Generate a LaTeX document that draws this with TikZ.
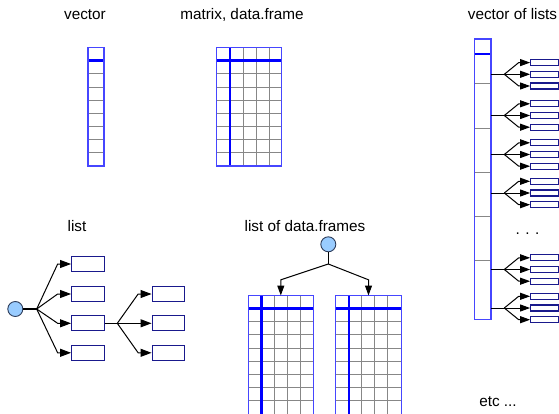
\documentclass[tikz,border=0pt]{standalone}
\usepackage{fontspec}
\setmainfont{Liberation Sans}
\usetikzlibrary{arrows.meta}
\definecolor{gridblue}{RGB}{70,70,255}
\definecolor{thickblue}{RGB}{0,0,255}
\definecolor{cellgray}{RGB}{135,135,135}
\definecolor{boxnavy}{RGB}{25,25,140}
\definecolor{ballfill}{RGB}{153,204,255}
\definecolor{balledge}{RGB}{45,60,90}
\tikzset{
  title/.style={anchor=base,inner sep=0pt,font=\fontsize{15.3}{18}\selectfont},
  cellline/.style={draw=cellgray,line width=1pt},
  keyline/.style={draw=thickblue,line width=2.6pt},
  frame/.style={draw=gridblue,line width=1.2pt},
  lbox/.style={draw=boxnavy,fill=white,line width=1.3pt,rectangle,inner sep=0pt,
    minimum width=32.6pt,minimum height=15pt},
  vbox/.style={draw=boxnavy,fill=white,line width=1.2pt,rectangle,inner sep=0pt,
    minimum width=27.6pt,minimum height=6pt},
  ball/.style={circle,draw=balledge,fill=ballfill,line width=0.9pt,inner sep=0pt,minimum size=15pt},
  link/.style={draw=black,line width=1pt},
  arrL/.style={link,-{Triangle[length=11pt,width=8pt]}},
  arrS/.style={link,-{Triangle[length=10pt,width=7pt]}},
}
\begin{document}
\begin{tikzpicture}[x=1pt,y=-1pt]
\useasboundingbox (0,0) rectangle (559,414);
\clip (0,0) rectangle (559,414);

% ---------- titles ----------
\node[title] (tvec) at (85,19.5) {vector};
\node[title] (tmat) at (242,19.5) {matrix, data.frame};
\node[title] (tvol) at (512.5,19.5) {vector of lists};
\node[title] (tlist) at (77,231) {list};
\node[title] (tldf) at (305,231) {list of data.frames};
\node[title] (tetc) at (498,406) {etc ...};

% ---------- vector ----------
\foreach \k in {1,...,7}
  \draw[cellline] (88,{60.7+\k*13.16}) -- (104,{60.7+\k*13.16});
\draw[keyline] (88,60.7) -- (104,60.7);
\draw[frame] (88,47.7) rectangle (104,166);

% ---------- matrix ----------
\foreach \k in {1,...,7}
  \draw[cellline] (216.7,{60.7+\k*13.16}) -- (281.3,{60.7+\k*13.16});
\foreach \c in {243,256,269}
  \draw[cellline] (\c,47.7) -- (\c,166);
\draw[keyline] (216.7,60.7) -- (281.3,60.7);
\draw[keyline] (230,47.7) -- (230,166);
\draw[frame] (216.7,47.7) rectangle (281.3,166);

% ---------- list ----------
\node[ball] (L0) at (15.3,309) {};
\coordinate (bA) at (36.7,309);
\foreach \i/\y in {1/264,2/294,3/323.3,4/352.8}
  \node[lbox] (B\i) at (88,\y) {};
\foreach \i/\y in {1/294,2/323.3,3/352.8}
  \node[lbox] (C\i) at (168.5,\y) {};
\coordinate (bB) at (117.3,323.3);
\draw[link,line width=1.4pt] (L0.east) -- (bA);
\foreach \i in {1,2,4}
  \draw[arrL] (bA) -- ([xshift=-13.4pt]B\i.west) -- (B\i.west);
\draw[arrL] (bA) -- ([xshift=-13.4pt]B3.west) -- (B3.west);
\draw[link] (B3.east) -- (bB);
\draw[arrL] (bB) -- ([xshift=-13.4pt]C1.west) -- (C1.west);
\draw[arrL] (bB) -- (C2.west);
\draw[arrL] (bB) -- ([xshift=-13.4pt]C3.west) -- (C3.west);

% ---------- list of data.frames ----------
\node[ball] (D0) at (328.3,244.3) {};
\coordinate (fork) at (328.3,264);
\node[rectangle,inner sep=0pt,minimum width=65pt,minimum height=124.3pt] (DF1) at (280.8,357.85) {};
\node[rectangle,inner sep=0pt,minimum width=65pt,minimum height=124.3pt] (DF2) at (368.5,357.85) {};
\foreach \df in {DF1,DF2} {
  \foreach \k in {1,...,8}
    \draw[cellline] ([yshift={-13-\k*13.2}]\df.north west) -- ([yshift={-13-\k*13.2}]\df.north east);
  \foreach \c in {26,39,52}
    \draw[cellline] ([xshift=\c pt]\df.north west) -- ([xshift=\c pt]\df.south west);
  \draw[keyline] ([yshift=-13pt]\df.north west) -- ([yshift=-13pt]\df.north east);
  \draw[keyline] ([xshift=13.2pt]\df.north west) -- ([xshift=13.2pt]\df.south west);
  \draw[frame] (\df.north west) rectangle (\df.south east);
}
\draw[link] (D0.south) -- (fork);
\draw[arrS] (fork) -- ([yshift=15.7pt]DF1.north) -- (DF1.north);
\draw[arrS] (fork) -- ([yshift=15.7pt]DF2.north) -- (DF2.north);

% ---------- vector of lists ----------
\node[rectangle,inner sep=0pt,minimum width=16.4pt,minimum height=280pt] (VL) at (482.5,179.3) {};
\foreach \y in {84,128.3,172.7,216,260.7}
  \draw[cellline] (474.3,\y) -- (490.7,\y);
\draw[draw=thickblue,line width=2pt] (474.3,54) -- (490.7,54);
\draw[frame] (VL.north west) rectangle (VL.south east);
\foreach \i/\y in {1/74.3,2/115.5,3/154.5,4/193,5/269.5,6/308} {
  \coordinate (f\i) at (504.3,\y);
  \node[vbox] (v\i-a) at (544.5,{\y-11.7}) {};
  \node[vbox] (v\i-b) at (544.5,\y) {};
  \node[vbox] (v\i-c) at (544.5,{\y+11.7}) {};
  \draw[link] (VL.east |- f\i) -- (f\i);
  \draw[arrS] (f\i) -- ([xshift=-11.4pt]v\i-a.west) -- (v\i-a.west);
  \draw[arrS] (f\i) -- (v\i-b.west);
  \draw[arrS] (f\i) -- ([xshift=-11.4pt]v\i-c.west) -- (v\i-c.west);
}
\node[title] (dots) at (527.5,234) {.\hspace{5.6pt}.\hspace{5.6pt}.};
\end{tikzpicture}
\end{document}
